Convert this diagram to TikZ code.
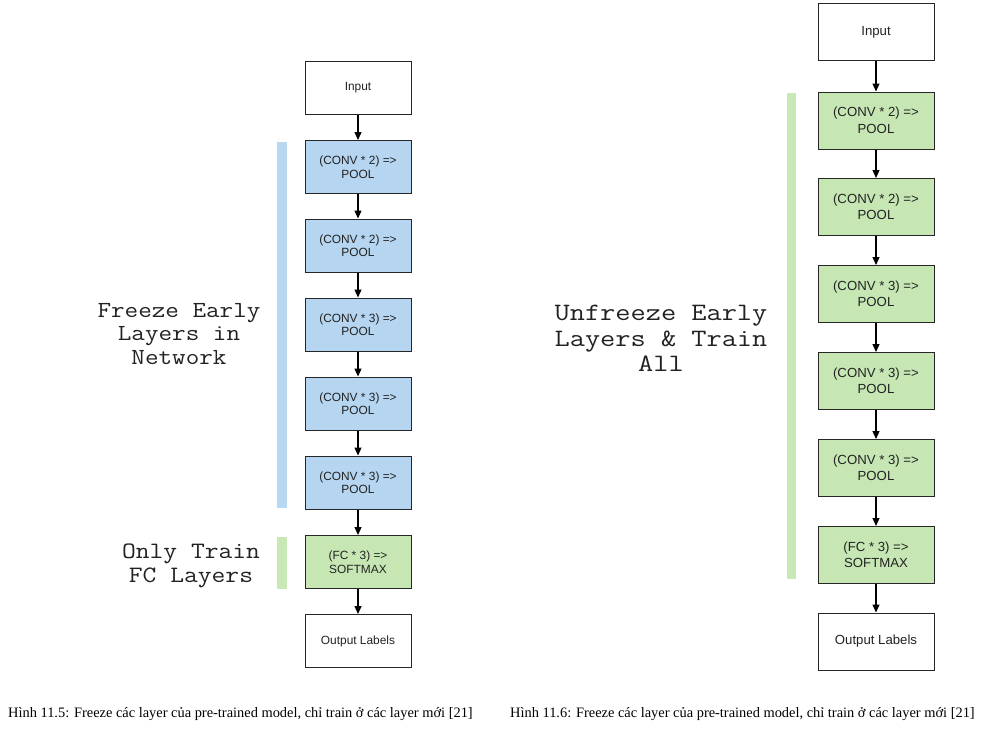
\documentclass[tikz,border=0pt]{standalone}
\usepackage{fontspec}
\setmainfont{Liberation Serif}
\newfontfamily\boxfont{Liberation Sans}
\usetikzlibrary{arrows.meta}
\definecolor{boxblue}{HTML}{B5D5F0}
\definecolor{boxgreen}{HTML}{C6E7B4}
\definecolor{barblue}{HTML}{B8D7F0}
\definecolor{bargreen}{HTML}{C8E8B6}
\definecolor{txt}{HTML}{222222}
\newcommand{\widelab}[2]{\scalebox{#1}[1]{\begin{tabular}{@{}c@{}}#2\end{tabular}}}
\begin{document}
\begin{tikzpicture}[x=1pt,y=-1pt,
  lbox/.style={draw=black!85,line width=1pt,minimum width=106pt,minimum height=53pt,inner sep=0pt,align=center,font=\boxfont\fontsize{11.9}{13.5}\selectfont,text=txt},
  rbox/.style={draw=black!85,line width=1pt,minimum width=116pt,minimum height=57pt,inner sep=0pt,align=center,font=\boxfont\fontsize{13.2}{16.5}\selectfont,text=txt},
  conn/.style={line width=1.2pt,-{Triangle[length=8pt,width=7pt]}},
  biglab/.style={text=txt,inner sep=0pt},
  captext/.style={anchor=west,inner sep=0pt,font=\fontsize{14.4}{16}\selectfont}]
\useasboundingbox (0,0) rectangle (1003,736);
% left bars
\fill[barblue] (277,142) rectangle (287,508);
\fill[bargreen] (277,537) rectangle (287,589);
% left column
\node[lbox] (lin) at (358,87.5) {Input};
\node[lbox,fill=boxblue] (l1) at (358,167) {(CONV * 2) =>\\POOL};
\node[lbox,fill=boxblue] (l2) at (358,245.5) {(CONV * 2) =>\\POOL};
\node[lbox,fill=boxblue] (l3) at (358,324.5) {(CONV * 3) =>\\POOL};
\node[lbox,fill=boxblue] (l4) at (358,403.5) {(CONV * 3) =>\\POOL};
\node[lbox,fill=boxblue] (l5) at (358,482.5) {(CONV * 3) =>\\POOL};
\node[lbox,fill=boxgreen] (lfc) at (358,562) {(FC * 3) =>\\SOFTMAX};
\node[lbox] (lout) at (358,641) {Output Labels};
\foreach \a/\b in {lin/l1,l1/l2,l2/l3,l3/l4,l4/l5,l5/lfc,lfc/lout}
  \draw[conn] (\a) -- (\b);
\node[biglab,font=\ttfamily\fontsize{23}{23.5}\selectfont] (lfreeze) at (179,336) {\widelab{1.146}{Freeze Early\\Layers in\\Network}};
\node[biglab,font=\ttfamily\fontsize{23.5}{24}\selectfont] (lonly) at (191,566) {\widelab{1.14}{Only Train\\FC Layers}};
% right bar
\fill[bargreen] (787,93) rectangle (796,579);
% right column
\node[rbox] (rin) at (876,32) {Input};
\node[rbox,fill=boxgreen] (r1) at (876,120.5) {(CONV * 2) =>\\POOL};
\node[rbox,fill=boxgreen] (r2) at (876,207) {(CONV * 2) =>\\POOL};
\node[rbox,fill=boxgreen] (r3) at (876,294) {(CONV * 3) =>\\POOL};
\node[rbox,fill=boxgreen] (r4) at (876,381) {(CONV * 3) =>\\POOL};
\node[rbox,fill=boxgreen] (r5) at (876,468) {(CONV * 3) =>\\POOL};
\node[rbox,fill=boxgreen] (rfc) at (876,555) {(FC * 3) =>\\SOFTMAX};
\node[rbox] (rout) at (876,641.5) {Output Labels};
\foreach \a/\b in {rin/r1,r1/r2,r2/r3,r3/r4,r4/r5,r5/rfc,rfc/rout}
  \draw[conn] (\a) -- (\b);
\node[biglab,font=\ttfamily\fontsize{25}{25.5}\selectfont] (runf) at (661,341) {\widelab{1.18}{Unfreeze Early\\Layers \& Train\\All}};
% captions
\node[captext] (capl) at (8,714) {Hình 11.5: Freeze các layer của pre-trained model, chỉ train ở các layer mới [21]};
\node[captext] (capr) at (510,714) {Hình 11.6: Freeze các layer của pre-trained model, chỉ train ở các layer mới [21]};
\end{tikzpicture}
\end{document}
